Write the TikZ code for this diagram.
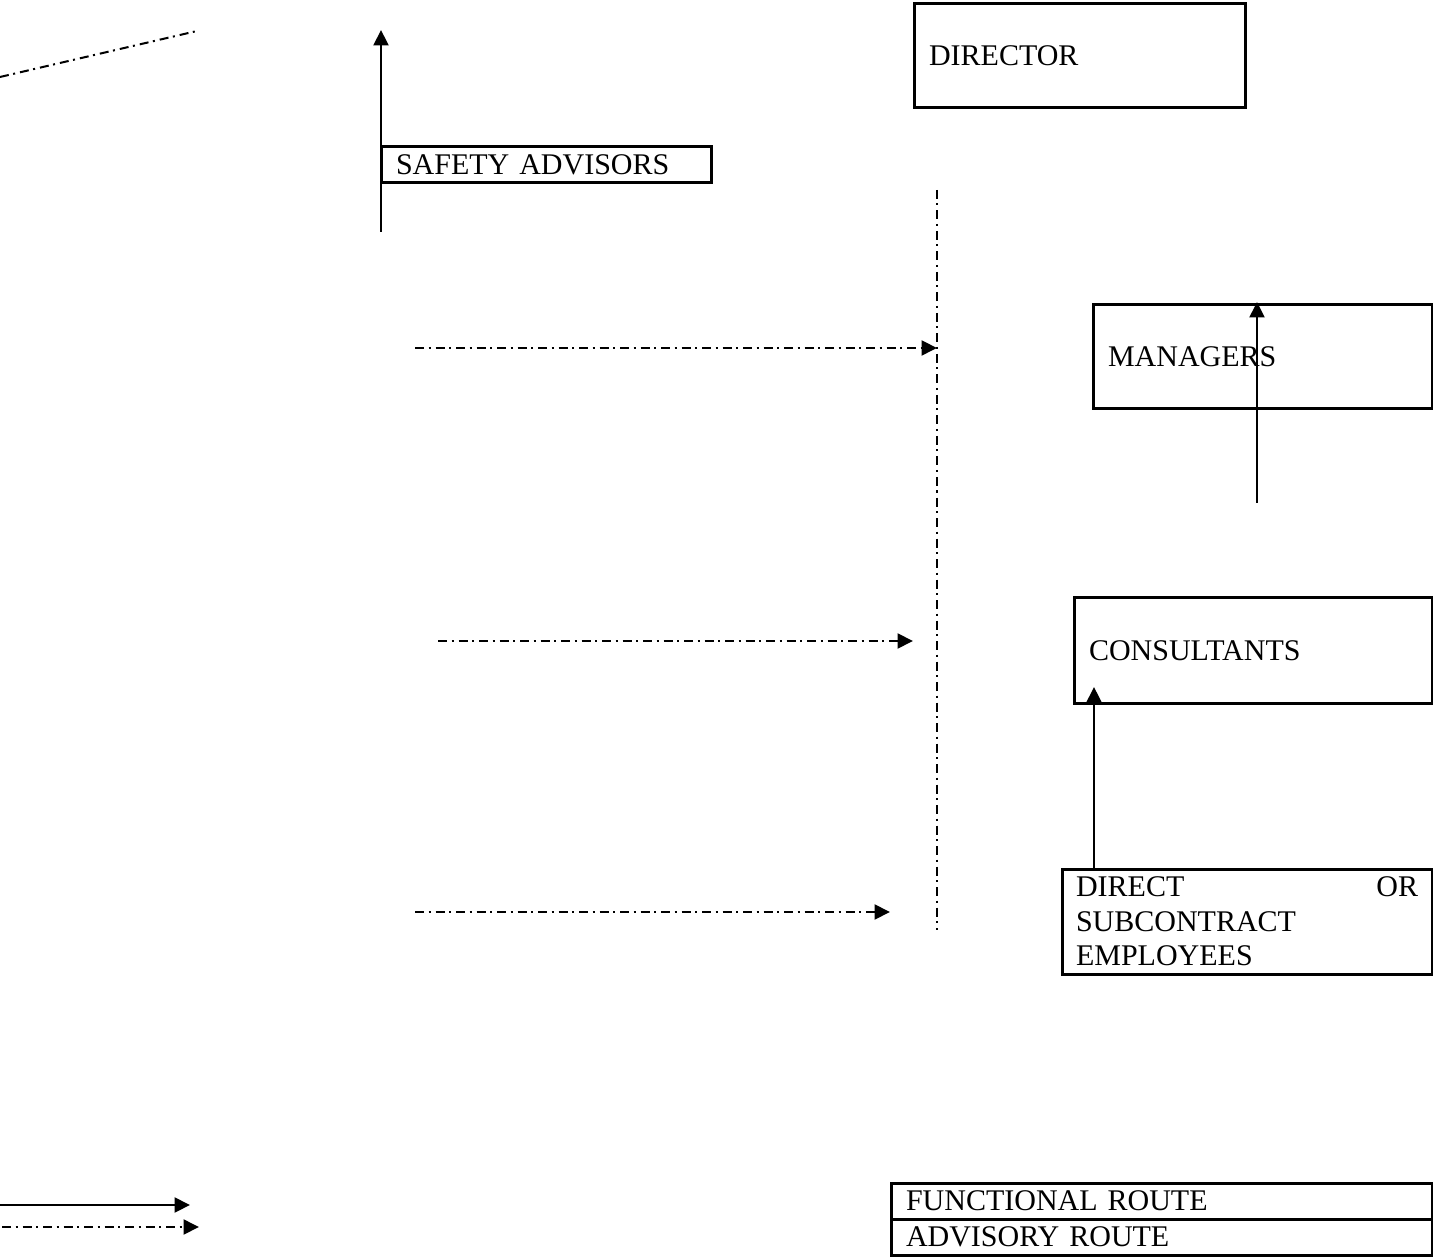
\documentclass[tikz,border=0pt]{standalone}
\usepackage{fontspec}
\setmainfont{Liberation Serif}
\usetikzlibrary{arrows.meta,calc}
\begin{document}
\begin{tikzpicture}[x=0.4pt,y=-0.4pt,
  font=\fontsize{12pt}{13.8pt}\selectfont,
  box/.style={draw,line width=1.2pt,anchor=north west,outer sep=0pt,inner xsep=6pt,inner ysep=0pt,align=left},
  func/.style={line width=0.85pt,-{Triangle[length=6.2pt,width=6pt]}},
  advline/.style={line width=0.8pt,dash pattern=on 3.6pt off 1.8pt on 0.8pt off 2pt},
  adv/.style={advline,-{Triangle[length=6.2pt,width=6pt]}}]
\useasboundingbox (0,0) rectangle (1433,1257);

% boxes
\node[box,text width=120.4pt,minimum height=41.6pt] (dirn) at (914,4) {DIRECTOR};
\node[box,text width=120pt,minimum height=14.4pt] (safe) at (381,147) {SAFETY ADVISORS};
\node[box,text width=123.6pt,minimum height=41.6pt] (mgr) at (1093,305) {MANAGERS};
\node[box,text width=131.2pt,minimum height=42pt] (cons) at (1074,598) {CONSULTANTS};
\node[box,inner xsep=5.6pt,text width=136.8pt,minimum height=42pt] (emp) at (1062,869) {DIRECT\hfill OR\\SUBCONTRACT\\EMPLOYEES};
\node[box,text width=204.4pt,minimum height=14.4pt] (lfun) at (891,1183) {FUNCTIONAL ROUTE};
\node[box,text width=204.4pt,minimum height=14.4pt] (ladv) at (891,1219) {ADVISORY ROUTE};

% free ends
\coordinate (tlA) at (0,77);
\coordinate (tlB) at (197,31);
\coordinate (safeTail) at (381,232);
\coordinate (safeHead) at (381,30);
\coordinate (vTop) at (937,190);
\coordinate (vBot) at (937,930);
\coordinate (a1) at (415,348);
\coordinate (a1h) at (937,348);
\coordinate (a2) at (438,641);
\coordinate (a2h) at (913,641);
\coordinate (a3) at (415,912);
\coordinate (a3h) at (890,912);
\coordinate (mgrTail) at (1257,503);
\coordinate (lf1) at (0,1205);
\coordinate (lf2) at (190,1205);
\coordinate (la1) at (2,1227);
\coordinate (la2) at (199,1227);

% connectors
\draw[advline] (tlA) -- (tlB);
\draw[func] (safeTail) -- (safeHead);
\draw[advline] (vTop) -- (vBot);
\draw[adv] (a1) -- (a1h);
\draw[adv] (a2) -- (a2h);
\draw[adv] (a3) -- (a3h);
\draw[func] (mgrTail) -- ($(mgr.north west)+(164,-3)$);
\draw[func] ($(emp.north west)+(32,0)$) -- ($(cons.south west)+(20,-16)$);
\draw[func] (lf1) -- (lf2);
\draw[adv] (la1) -- (la2);
\end{tikzpicture}
\end{document}
